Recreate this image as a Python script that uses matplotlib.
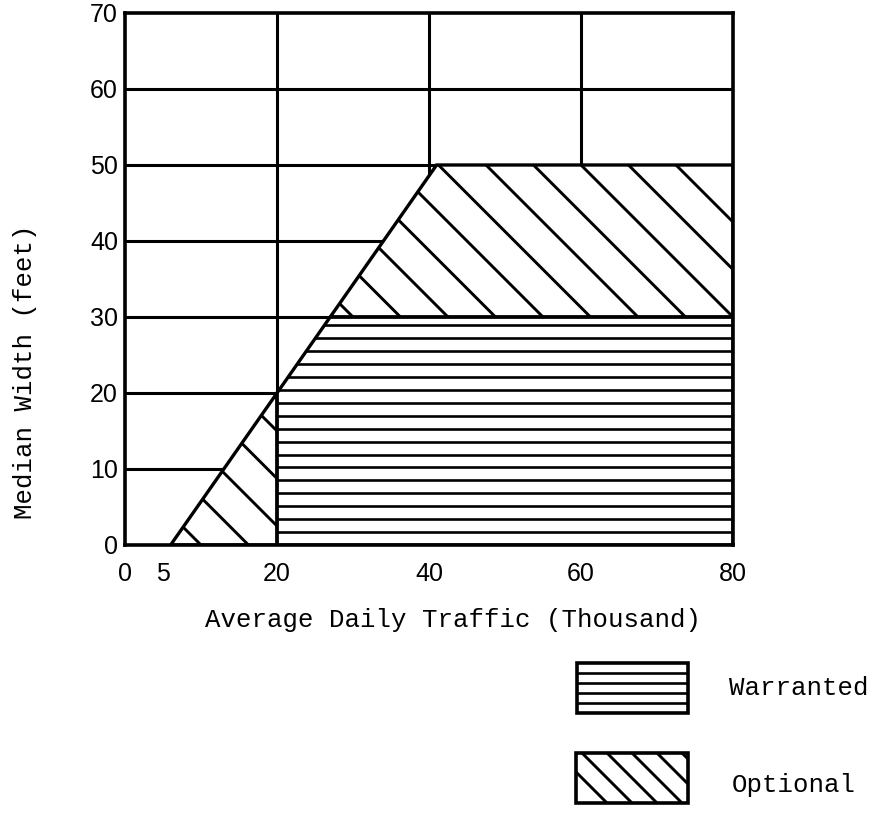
import numpy as np
import matplotlib
matplotlib.use("Agg")
import matplotlib.pyplot as plt
from matplotlib.patches import Polygon, Rectangle

# chart values (x = ADT in thousands, y = median width in feet)
x_ticks = [0, 5, 20, 40, 60, 80]
y_ticks = [0, 10, 20, 30, 40, 50, 60, 70]
grid_x = [20, 40, 60]
grid_y = [10, 20, 30, 40, 50, 60]

warranted_x = [20, 80, 80, 27, 20]
warranted_y = [0, 0, 30, 30, 20]
optional_low_x = [6, 20, 20]
optional_low_y = [0, 0, 20]
optional_up_x = [27, 80, 80, 41]
optional_up_y = [30, 30, 50, 50]

W, H = 878, 814
mono = "Liberation Mono"
sans = "Liberation Sans"

fig = plt.figure(figsize=(W / 100, H / 100), dpi=100)
ax = fig.add_axes([125 / W, 1 - 545 / H, 608 / W, 532 / H])
ax.set_xlim(0, 80)
ax.set_ylim(0, 70)

for gx in grid_x:
    ax.axvline(gx, color="black", lw=2.2, zorder=1)
for gy in grid_y:
    ax.axhline(gy, color="black", lw=2.2, zorder=1)


def add_region(xs, ys, hatch):
    patch = Polygon(np.column_stack([xs, ys]), closed=True, facecolor="white",
                    edgecolor="none", zorder=2)
    ax.add_patch(patch)
    if hatch == "h":
        for hy in np.arange(1.7, 30, 1.7):
            ln, = ax.plot([0, 80], [hy, hy], color="black", lw=1.9, zorder=3)
            ln.set_clip_path(patch)
    else:
        for c in np.arange(10, 125, 6.25):
            ln, = ax.plot([c - 80, c], [80, 0], color="black", lw=2.1, zorder=3)
            ln.set_clip_path(patch)
    edge = Polygon(np.column_stack([xs, ys]), closed=True, fill=False,
                   edgecolor="black", lw=2.4, zorder=4)
    ax.add_patch(edge)


add_region(warranted_x, warranted_y, "h")
add_region(optional_low_x, optional_low_y, "d")
add_region(optional_up_x, optional_up_y, "d")

ax.set_xticks(x_ticks)
ax.set_yticks(y_ticks)
ax.tick_params(length=0, labelsize=18)
ax.tick_params(axis="x", pad=12)
ax.tick_params(axis="y", pad=5)
for lab in ax.get_xticklabels() + ax.get_yticklabels():
    lab.set_fontfamily(sans)
for s in ax.spines.values():
    s.set_linewidth(2.6)
    s.set_zorder(5)

fig.text(453 / W, 1 - 620 / H, "Average Daily Traffic (Thousand)",
         family=mono, fontsize=18.5, ha="center", va="center")
fig.text(25 / W, 1 - 372 / H, "Median Width (feet)", family=mono,
         fontsize=18.5, rotation=90, ha="center", va="center")

# legend drawn in pixel coordinates
lax = fig.add_axes([0, 0, 1, 1])
lax.set_xlim(0, W)
lax.set_ylim(H, 0)
lax.axis("off")

box_w = Rectangle((577, 663), 111, 50, facecolor="white", edgecolor="none", zorder=1)
lax.add_patch(box_w)
for hy in [673, 683, 693, 703]:
    ln, = lax.plot([577, 688], [hy, hy], color="black", lw=1.9, zorder=2)
    ln.set_clip_path(box_w)
box_o = Rectangle((576, 753), 112, 50, facecolor="white", edgecolor="none", zorder=1)
lax.add_patch(box_o)
for c in np.arange(96 - 125, 200, 25):
    ln, = lax.plot([500, 760], [500 + c, 760 + c], color="black", lw=2.1, zorder=2)
    ln.set_clip_path(box_o)
lax.add_patch(Rectangle((577, 663), 111, 50, fill=False, edgecolor="black", lw=2.6, zorder=4))
lax.add_patch(Rectangle((576, 753), 112, 50, fill=False, edgecolor="black", lw=2.6, zorder=4))

lax.text(729, 688, "Warranted", family=mono, fontsize=18.5, ha="left", va="center")
lax.text(732, 785, "Optional", family=mono, fontsize=18.5, ha="left", va="center")

fig.savefig("out.png", dpi=100)
